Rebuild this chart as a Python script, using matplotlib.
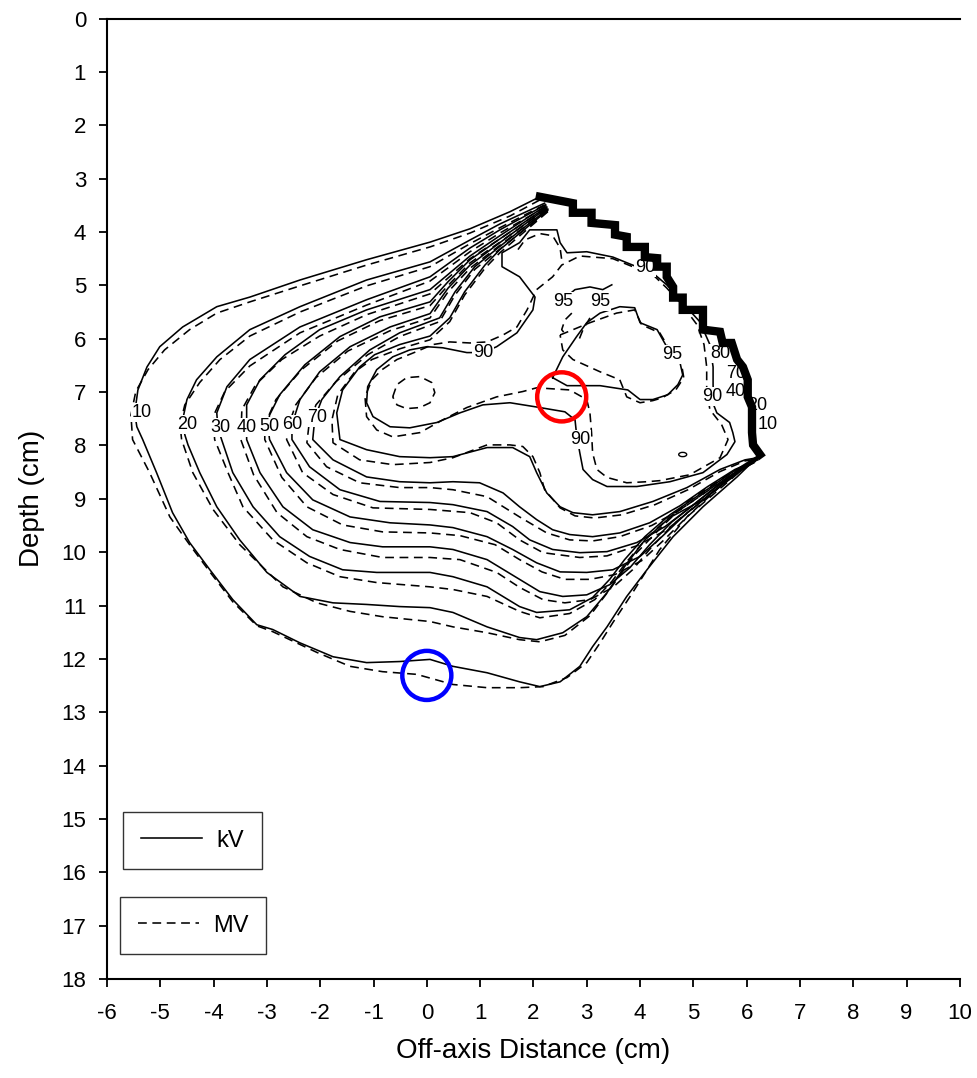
import numpy as np
import matplotlib.pyplot as plt
from matplotlib.lines import Line2D
from matplotlib.patches import Ellipse

plt.rcParams['font.family'] = ['Liberation Sans', 'DejaVu Sans']
plt.rcParams['axes.unicode_minus'] = False

# isodose lines, (off-axis cm, depth cm)
kv10 = np.array([(2.12,3.34),(1.56,3.62),(0.81,3.94),(0.06,4.19),(-1.13,4.52),(-2.38,4.90),(-3.32,5.22),(-3.94,5.40),
                 (-4.58,5.78),(-5.01,6.15),(-5.25,6.53),(-5.42,6.96),(-5.48,7.39),(-5.44,7.65),(-5.33,7.89),(-5.07,8.51),
                 (-4.77,9.26),(-4.45,9.82),(-4.07,10.33),(-3.64,10.89),(-3.19,11.36),(-2.89,11.45),(-2.38,11.70),(-1.76,11.96),
                 (-1.13,12.07),(-0.51,12.05),(0.06,12.01),(0.49,12.14),(1.13,12.26),(1.74,12.43),(2.12,12.52),(2.50,12.43),
                 (2.87,12.14),(3.11,11.77),(3.38,11.40),(3.75,10.83),(4.13,10.33),(4.62,9.71),(5.18,9.15),(5.82,8.59),(6.25,8.17)])
kv20 = np.array([(2.21,3.46),(1.37,3.85),(0.81,4.15),(0.06,4.56),(-1.13,4.90),(-2.38,5.40),(-3.32,5.83),(-3.94,6.34),
                 (-4.32,6.77),(-4.50,7.14),(-4.58,7.52),(-4.54,7.80),(-4.48,7.99),(-4.26,8.51),(-3.94,9.15),(-3.51,9.77),
                 (-3.00,10.38),(-2.38,10.83),(-1.76,10.95),(-1.13,10.98),(-0.51,11.02),(0.06,11.04),(0.49,11.13),(1.13,11.40),
                 (1.74,11.60),(2.06,11.64),(2.55,11.51),(3.00,11.21),(3.38,10.76),(3.71,10.27),(4.09,9.77),(4.56,9.35),
                 (5.18,9.02),(5.78,8.55),(6.21,8.21)])
kv30 = np.array([(2.23,3.49),(1.37,3.96),(0.81,4.30),(0.06,4.84),(-1.13,5.27),(-2.38,5.78),(-3.32,6.39),(-3.75,6.90),
                 (-3.94,7.39),(-3.92,7.67),(-3.85,7.89),(-3.64,8.51),(-3.26,9.15),(-2.76,9.71),(-2.20,10.08),(-1.58,10.33),
                 (-0.94,10.38),(0.06,10.38),(0.49,10.46),(1.13,10.65),(1.74,11.02),(2.06,11.13),(2.68,11.08),(3.11,10.85),
                 (3.43,10.51),(3.71,10.14),(4.09,9.71),(4.56,9.30),(5.12,8.92),(5.72,8.51),(6.19,8.21)])
kv40 = np.array([(2.23,3.51),(1.37,4.07),(0.81,4.45),(0.06,5.08),(-1.13,5.46),(-2.01,5.83),(-2.66,6.30),(-3.13,6.77),
                 (-3.38,7.24),(-3.38,7.67),(-3.38,7.89),(-3.13,8.51),(-2.70,9.15),(-2.14,9.58),(-1.44,9.82),(-0.83,9.90),
                 (0.06,9.90),(0.49,9.95),(1.13,10.14),(1.74,10.51),(2.12,10.74),(2.55,10.83),(3.00,10.80),(3.43,10.61),
                 (3.81,10.29),(4.18,9.86),(4.60,9.43),(5.12,9.02),(5.68,8.59),(6.19,8.23)])
kv50 = np.array([(2.25,3.53),(1.37,4.13),(0.81,4.52),(0.40,4.93),(0.06,5.31),(-0.88,5.59),(-1.63,5.96),(-2.29,6.49),
                 (-2.76,7.05),(-2.95,7.43),(-2.98,7.65),(-2.95,7.89),(-2.63,8.51),(-2.14,9.02),(-1.44,9.34),(-0.69,9.45),
                 (0.06,9.49),(0.49,9.54),(1.13,9.71),(1.61,9.95),(2.06,10.20),(2.50,10.37),(3.00,10.38),(3.49,10.33),
                 (4.00,10.08),(4.41,9.71),(4.84,9.30),(5.35,8.89),(5.83,8.49),(6.21,8.23)])
kv60 = np.array([(2.25,3.55),(1.37,4.20),(0.81,4.62),(0.40,5.05),(0.06,5.53),(-0.69,5.78),(-1.44,6.15),(-2.01,6.62),
                 (-2.38,7.14),(-2.53,7.61),(-2.53,7.89),(-2.20,8.40),(-1.63,8.83),(-0.88,9.05),(0.06,9.07),(0.49,9.11),
                 (1.13,9.24),(1.61,9.52),(1.93,9.77),(2.36,9.95),(2.87,10.01),(3.38,9.99),(3.94,9.82),(4.47,9.52),
                 (4.93,9.17),(5.40,8.79),(5.87,8.45),(6.21,8.25)])
kv70 = np.array([(2.27,3.57),(1.37,4.27),(0.90,4.65),(0.53,5.12),(0.24,5.61),(-0.51,5.89),(-1.07,6.21),(-1.63,6.71),
                 (-1.97,7.14),(-2.10,7.48),(-2.14,7.89),(-1.76,8.27),(-1.13,8.59),(-0.51,8.68),(0.06,8.70),(0.49,8.68),
                 (0.99,8.70),(1.43,8.89),(1.74,9.15),(2.06,9.39),(2.36,9.58),(2.68,9.67),(3.11,9.71),(3.62,9.64),
                 (4.18,9.45),(4.75,9.13),(5.27,8.77),(5.78,8.45),(6.21,8.27)])
kv80 = np.array([(2.27,3.59),(1.37,4.33),(1.09,4.62),(0.71,5.12),(0.43,5.61),(0.06,5.95),(-0.51,6.11),(-0.98,6.30),
                 (-1.26,6.53),(-1.58,6.96),(-1.69,7.39),(-1.63,7.89),(-1.13,8.08),(-0.51,8.21),(0.06,8.23),(0.49,8.21),
                 (1.13,8.04),(1.61,8.04),(1.93,8.21),(2.06,8.51),(2.25,8.89),(2.50,9.15),(2.74,9.26),(3.11,9.30),
                 (3.62,9.24),(4.24,9.05),(4.88,8.79),(5.50,8.45),(5.97,8.27),(6.21,8.23)])
kv90 = np.array([(4.24,4.77),(4.50,4.99),(4.80,5.33),(5.12,5.68),(5.31,6.11),(5.37,6.53),(5.37,6.86),(5.38,7.24),
                 (5.44,7.39),(5.68,7.57),(5.74,7.76),(5.78,7.93),(5.63,8.17),(5.18,8.51),(4.56,8.68),(3.94,8.77),
                 (3.38,8.77),(3.11,8.64),(2.93,8.45),(2.87,8.14),(2.81,7.80),(2.78,7.52),(2.59,7.37),(2.06,7.28),
                 (1.56,7.20),(1.05,7.24),(0.62,7.39),(0.19,7.57),(-0.32,7.67),(-0.69,7.65),(-1.01,7.46),(-1.13,7.20),
                 (-1.11,6.90),(-0.94,6.58),(-0.64,6.34),(-0.32,6.21),(0.00,6.15),(0.30,6.17),(0.75,6.26),(1.05,6.26),
                 (1.31,6.15),(1.69,5.89),(1.99,5.46),(2.03,5.22),(1.74,4.84),(1.41,4.65),(1.41,4.39),(1.74,4.20),
                 (1.93,3.96),(2.44,3.96),(2.50,4.20),(2.63,4.39),(3.00,4.37),(3.49,4.47),(3.86,4.62),(4.24,4.77)])
kv95 = np.array([(2.36,6.73),(2.55,6.34),(2.81,5.96),(3.00,5.70),(3.25,5.52),(3.62,5.40),(3.90,5.42),(4.00,5.70),
                 (4.32,5.83),(4.50,6.15),(4.60,6.30),(4.75,6.45),(4.80,6.68),(4.71,6.86),(4.52,7.05),(4.24,7.14),
                 (4.00,7.14),(3.77,6.96),(3.25,6.88),(2.63,6.88),(2.36,6.73)])
kv95_arc = np.array([(2.61,5.22),(2.78,5.08),(3.06,5.03),(3.30,5.08),(3.47,4.99)])

mv10 = np.array([(2.12,3.40),(1.56,3.70),(0.81,4.02),(0.06,4.28),(-1.13,4.62),(-2.38,5.01),(-3.32,5.31),(-3.94,5.52),
                 (-4.45,5.83),(-4.92,6.21),(-5.23,6.58),(-5.46,6.99),(-5.55,7.43),(-5.52,7.89),(-5.20,8.51),(-4.82,9.34),
                 (-4.45,9.86),(-4.07,10.37),(-3.64,10.93),(-3.19,11.38),(-2.89,11.49),(-2.06,11.88),(-1.44,12.14),(-0.83,12.24),
                 (-0.19,12.29),(0.49,12.48),(1.13,12.54),(1.74,12.54),(2.18,12.52),(2.63,12.35),(3.00,12.07),(3.25,11.70),
                 (3.49,11.32),(3.86,10.76),(4.37,9.95),(4.88,9.34),(5.50,8.77),(6.25,8.21)])
mv20 = np.array([(2.21,3.49),(1.37,3.92),(0.81,4.22),(0.06,4.65),(-1.13,5.01),(-2.38,5.50),(-3.32,5.95),(-3.88,6.39),
                 (-4.26,6.82),(-4.54,7.24),(-4.63,7.61),(-4.60,7.89),(-4.39,8.51),(-4.01,9.20),(-3.51,9.86),(-2.70,10.65),
                 (-2.06,10.95),(-1.44,11.11),(-0.83,11.21),(0.06,11.30),(0.49,11.40),(1.13,11.51),(1.74,11.64),(2.12,11.68),
                 (2.59,11.56),(3.06,11.19),(3.43,10.70),(3.90,10.05),(4.41,9.52),(4.93,9.02),(5.59,8.59),(6.21,8.23)])
mv30 = np.array([(2.23,3.53),(1.37,4.02),(0.81,4.37),(0.06,4.92),(-1.13,5.37),(-2.38,5.89),(-3.32,6.51),(-3.79,6.99),
                 (-4.01,7.46),(-3.98,7.89),(-3.73,8.51),(-3.45,9.15),(-2.89,9.77),(-2.25,10.20),(-1.63,10.46),(-0.94,10.57),
                 (0.06,10.65),(0.49,10.70),(1.13,10.83),(1.74,11.11),(2.12,11.23),(2.68,11.15),(3.15,10.89),(3.47,10.55),
                 (3.75,10.18),(4.13,9.73),(4.58,9.32),(5.14,8.94),(5.74,8.53),(6.19,8.23)])
mv40 = np.array([(2.23,3.55),(1.37,4.13),(0.81,4.50),(0.06,5.16),(-1.13,5.55),(-2.01,5.95),(-2.72,6.39),(-3.21,6.86),
                 (-3.47,7.33),(-3.49,7.89),(-3.25,8.55),(-2.81,9.26),(-2.25,9.71),(-1.63,9.95),(-0.83,10.10),(0.06,10.10),
                 (0.62,10.14),(1.31,10.38),(1.74,10.66),(2.18,10.89),(2.59,10.95),(3.06,10.89),(3.49,10.66),(3.86,10.33),
                 (4.22,9.90),(4.63,9.47),(5.14,9.05),(5.70,8.60),(6.19,8.25)])
mv50 = np.array([(2.25,3.57),(1.37,4.19),(0.81,4.58),(0.40,5.00),(0.06,5.38),(-0.88,5.66),(-1.67,6.04),(-2.35,6.58),
                 (-2.83,7.14),(-3.04,7.61),(-3.04,7.89),(-2.72,8.60),(-2.25,9.15),(-1.58,9.49),(-0.83,9.62),(0.06,9.64),
                 (0.62,9.69),(1.28,9.86),(1.74,10.14),(2.16,10.37),(2.59,10.51),(3.06,10.51),(3.53,10.42),(4.03,10.16),
                 (4.45,9.77),(4.88,9.34),(5.37,8.92),(5.85,8.51),(6.21,8.25)])
mv60 = np.array([(2.25,3.59),(1.37,4.25),(0.81,4.68),(0.40,5.12),(0.06,5.61),(-0.69,5.85),(-1.48,6.23),(-2.08,6.73),
                 (-2.46,7.24),(-2.61,7.67),(-2.63,7.89),(-2.33,8.51),(-1.76,8.92),(-1.01,9.17),(0.06,9.20),(0.81,9.26),
                 (1.31,9.45),(1.74,9.77),(2.18,10.01),(2.87,10.10),(3.38,10.07),(3.94,9.88),(4.50,9.58),(4.97,9.20),
                 (5.42,8.83),(5.89,8.47),(6.21,8.27)])
mv70 = np.array([(2.27,3.61),(1.37,4.32),(0.90,4.70),(0.53,5.18),(0.24,5.68),(-0.51,5.96),(-1.11,6.30),(-1.71,6.81),
                 (-2.08,7.24),(-2.21,7.61),(-2.25,7.95),(-1.88,8.40),(-1.26,8.70),(-0.51,8.79),(0.06,8.79),(0.49,8.83),
                 (1.13,8.96),(1.74,9.34),(2.25,9.64),(2.68,9.77),(3.11,9.79),(3.62,9.71),(4.22,9.50),(4.78,9.19),
                 (5.29,8.83),(5.80,8.49),(6.21,8.29)])
mv80 = np.array([(2.27,3.62),(1.37,4.39),(1.09,4.68),(0.71,5.18),(0.43,5.68),(0.06,6.02),(-0.51,6.19),(-1.03,6.39),
                 (-1.35,6.62),(-1.67,7.05),(-1.78,7.52),(-1.76,7.95),(-1.26,8.27),(-0.64,8.36),(0.06,8.32),(0.49,8.23),
                 (1.13,7.99),(1.56,7.99),(1.80,8.02),(1.99,8.21),(2.12,8.51),(2.21,8.83),(2.50,9.17),(2.78,9.32),
                 (3.15,9.36),(3.66,9.30),(4.28,9.11),(4.90,8.83),(5.50,8.49),(5.97,8.29),(6.21,8.25)])
mv90 = np.array([(4.24,4.80),(4.50,5.05),(4.80,5.38),(5.07,5.74),(5.20,6.11),(5.25,6.53),(5.25,6.96),(5.31,7.33),
                 (5.53,7.61),(5.65,7.89),(5.50,8.23),(4.93,8.55),(4.37,8.66),(4.13,8.68),(3.75,8.70),(3.38,8.60),
                 (3.19,8.45),(3.11,8.14),(3.09,7.76),(3.06,7.39),(3.00,7.14),(2.68,6.96),(2.06,6.92),(1.80,6.99),
                 (1.31,7.09),(0.75,7.29),(0.30,7.52),(-0.13,7.76),(-0.64,7.84),(-0.94,7.71),(-1.13,7.46),(-1.16,7.09),
                 (-1.03,6.77),(-0.84,6.58),(-0.56,6.39),(-0.19,6.24),(0.11,6.11),(0.43,6.06),(0.81,6.08),(1.13,6.06),
                 (1.43,5.93),(1.69,5.78),(1.88,5.46),(2.06,5.08),(2.36,4.84),(2.53,4.62),(2.87,4.45),(3.49,4.50),
                 (3.86,4.65),(4.24,4.80)])
mv90_bump = np.array([(1.71,4.33),(1.84,4.15),(2.12,4.03),(2.36,4.07),(2.50,4.30),(2.53,4.52)])
mv95 = np.array([(2.50,5.93),(3.06,5.70),(3.56,5.52),(3.90,5.46),(4.03,5.74),(4.37,5.89),(4.56,6.21),(4.78,6.49),
                 (4.82,6.73),(4.67,6.96),(4.41,7.11),(4.24,7.16),(4.00,7.20),(3.75,7.09),(3.62,6.77),(3.25,6.62),
                 (2.74,6.39),(2.55,6.21),(2.50,5.93)])
mv95_a = np.array([(2.72,5.52),(2.59,5.65),(2.53,5.83),(2.63,5.96)])
mv95_b = np.array([(3.06,5.61),(2.93,5.83),(2.83,6.08)])
mv95_oval = np.array([(-0.64,7.09),(-0.56,6.86),(-0.38,6.73),(-0.13,6.71),(0.09,6.82),(0.15,7.01),(0.06,7.20),
                      (-0.13,7.29),(-0.38,7.31),(-0.56,7.24),(-0.64,7.09)])

# jagged field edge where all the lines pile up
edge = np.array([(2.12,3.34),(2.74,3.46),(2.74,3.64),(3.09,3.64),(3.09,3.83),(3.53,3.87),(3.53,4.05),(3.75,4.09),
                 (3.75,4.28),(4.09,4.28),(4.09,4.47),(4.32,4.49),(4.32,4.65),(4.50,4.65),(4.50,4.84),(4.62,5.03),
                 (4.62,5.23),(4.80,5.23),(4.80,5.46),(5.18,5.46),(5.18,5.83),(5.50,5.87),(5.55,6.08),(5.72,6.08),
                 (5.82,6.39),(5.93,6.53),(6.02,6.77),(6.02,7.09),(6.10,7.28),(6.10,7.76),(6.12,7.99),(6.25,8.17)])

# contour labels
lab_text = ['10', '20', '30', '40', '50', '60', '70', '90', '90', '95', '95', '95', '90', '90', '80', '70', '40', '20', '10']
lab_x = [-5.35, -4.50, -3.88, -3.38, -2.96, -2.53, -2.06, 1.05, 4.09, 2.55, 3.25, 4.60, 5.35, 2.87, 5.50, 5.80, 5.80, 6.20, 6.40]
lab_y = [7.39, 7.61, 7.67, 7.67, 7.65, 7.61, 7.48, 6.26, 4.67, 5.31, 5.31, 6.30, 7.09, 7.89, 6.28, 6.66, 6.98, 7.25, 7.61]

# highlighted spots
circ_x = [2.53, 0.0]
circ_y = [7.09, 12.31]
circ_col = ['#ff0000', '#0000ff']

fig = plt.figure(figsize=(9.77, 10.78), dpi=100)
ax = fig.add_axes([0.1095, 0.0918, 0.873, 0.891])

lw = 1.15
for c in [kv10, kv20, kv30, kv40, kv50, kv60, kv70, kv80, kv90, kv95, kv95_arc]:
    ax.plot(c[:, 0], c[:, 1], color='black', lw=lw, zorder=3)
for c in [mv10, mv20, mv30, mv40, mv50, mv60, mv70, mv80, mv90, mv90_bump, mv95, mv95_a, mv95_b, mv95_oval]:
    ax.plot(c[:, 0], c[:, 1], color='black', lw=lw, dashes=(5.5, 3.5), zorder=3)

ax.plot(edge[:, 0], edge[:, 1], color='black', lw=6, solid_joinstyle='miter', zorder=6)
ax.add_patch(Ellipse((4.80, 8.17), 0.15, 0.08, fill=False, lw=1, zorder=3))

for s, x, y in zip(lab_text, lab_x, lab_y):
    ax.text(x, y, s, ha='center', va='center', fontsize=13, zorder=5,
            bbox=dict(boxstyle='square,pad=0.05', fc='white', ec='none'))

for x, y, c in zip(circ_x, circ_y, circ_col):
    ax.add_patch(Ellipse((x, y), 0.92, 0.92, fill=False, ec=c, lw=3.2, zorder=8))

ax.set_xlim(-6, 10)
ax.set_ylim(18, 0)
ax.set_xticks(range(-6, 11))
ax.set_yticks(range(0, 19))
ax.spines['right'].set_visible(False)
for s in ['left', 'bottom', 'top']:
    ax.spines[s].set_linewidth(1.5)
ax.tick_params(axis='both', direction='out', length=6, width=1.3, labelsize=16)
ax.tick_params(axis='y', pad=9)
ax.tick_params(axis='x', pad=11)
ax.set_xlabel('Off-axis Distance (cm)', fontsize=20, labelpad=10)
ax.set_ylabel('Depth (cm)', fontsize=20, labelpad=12)

leg1 = ax.legend([Line2D([], [], color='black', lw=lw)], ['kV'], loc='upper left',
                 bbox_to_anchor=(0.0188, 0.1739), borderaxespad=0, fancybox=False, edgecolor='#333333',
                 framealpha=1, fontsize=17, handlelength=2.6, handletextpad=0.6, borderpad=0.75)
leg1.get_frame().set_linewidth(1.0)
ax.add_artist(leg1)
leg2 = ax.legend([Line2D([], [], color='black', lw=lw, dashes=(5.5, 3.5))], ['MV'], loc='upper left',
                 bbox_to_anchor=(0.0152, 0.0854), borderaxespad=0, fancybox=False, edgecolor='#333333',
                 framealpha=1, fontsize=17, handlelength=2.6, handletextpad=0.6, borderpad=0.75)
leg2.get_frame().set_linewidth(1.0)

fig.savefig('out.png', dpi=100)
